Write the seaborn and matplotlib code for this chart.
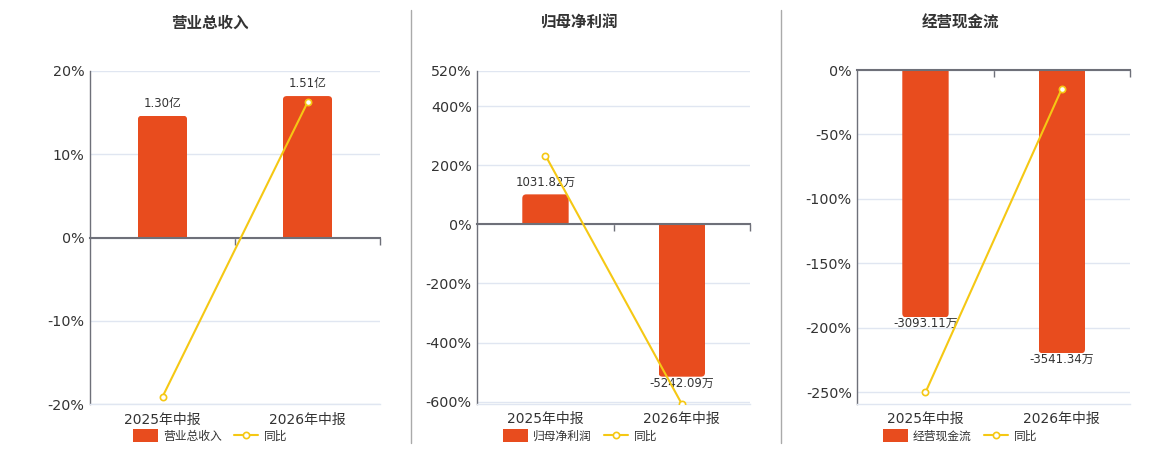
import seaborn as sns
import pandas as pd
import numpy as np
import matplotlib.pyplot as plt
from matplotlib.lines import Line2D
from matplotlib.patches import FancyBboxPatch

# Data
periods = ['2025年中报', '2026年中报']

titles = ['营业总收入', '归母净利润', '经营现金流']
units = ['亿', '万', '万']

revenue = [1.30, 1.51]          # 亿
net_profit = [1031.82, -5242.09]  # 万
cash_flow = [-3093.11, -3541.34]  # 万

revenue_yoy = [-19.1, 16.2]
net_profit_yoy = [233.0, -608.0]
cash_flow_yoy = [-250.0, -14.49]

# y-axis (percent) limits and ticks for each panel
pct_limits = [(-20, 20), (-608, 520), (-259, 0)]
pct_ticks = [[-20, -10, 0, 10, 20],
             [-600, -400, -200, 0, 200, 400, 520],
             [-250, -200, -150, -100, -50, 0]]

bar_color = '#E84C1E'
line_color = '#F5C814'
grid_color = '#E0E6F1'
axis_color = '#6E7079'
text_color = '#333333'

sns.set_theme(style='white')
plt.rcParams['font.family'] = ['DejaVu Sans', 'Noto Sans CJK SC']

W, H = 1160, 450
fig = plt.figure(figsize=(W / 100, H / 100), dpi=100)

# panel boxes in pixels: left, right, top, bottom ; centre of title/legend
boxes = [(90, 380, 70.7, 404.3, 210),
         (477.3, 750, 70.7, 404, 580),
         (857.3, 1130, 70, 404, 960)]

bars_all = [revenue, net_profit, cash_flow]
yoy_all = [revenue_yoy, net_profit_yoy, cash_flow_yoy]

for i in range(3):
    l, r, t, b, cx = boxes[i]
    ax = fig.add_axes([l / W, 1 - b / H, (r - l) / W, (b - t) / H])
    bars = bars_all[i]
    yoy = yoy_all[i]
    lo, hi = pct_limits[i]

    # scale for bars so that zero lines up with the percent axis
    k = max(abs(v) / (0.848 * (hi if v > 0 else -lo)) for v in bars)

    df = pd.DataFrame({'period': periods, 'value': bars, 'yoy': yoy})

    sns.barplot(data=df, x='period', y='value', ax=ax, color=bar_color,
                saturation=1, width=0.34, zorder=1)
    ax.set_ylim(lo * k, hi * k)
    ax.set_yticks(np.array(pct_ticks[i]) * k)
    ax.set_axisbelow(True)
    ax.grid(axis='y', color=grid_color, lw=1)
    ax.grid(axis='x', visible=False)
    ax.tick_params(axis='y', labelleft=False, length=0)
    ax.set_xlabel('')
    ax.set_ylabel('')

    # rounded bar ends: replace each bar by a rounded box clipped to the bar
    x_per_px = 2.0 / (r - l)
    y_per_px = (hi - lo) * k / (b - t)
    rad = 4 * x_per_px
    for patch in list(ax.patches):
        x0, y0 = patch.get_x(), patch.get_y()
        w, h = patch.get_width(), patch.get_height()
        ext = 6 * y_per_px
        if h >= 0:
            yb, hb = y0 - ext, h + ext
        else:
            yb, hb = y0 + ext, h - ext
        ybot = min(yb, yb + hb)
        rb = FancyBboxPatch((x0, ybot), w, abs(hb),
                            boxstyle=f'round,pad=0,rounding_size={rad}',
                            mutation_aspect=y_per_px / x_per_px,
                            facecolor=bar_color, edgecolor='none', zorder=1)
        ax.add_patch(rb)
        rb.set_clip_path(patch)
        patch.set_visible(False)

    # category axis sits on zero
    ax.spines['top'].set_position(('data', 0))
    ax.spines['top'].set_color(axis_color)
    ax.spines['top'].set_linewidth(1.5)
    ax.spines['left'].set_color(axis_color)
    ax.spines['left'].set_linewidth(1)
    ax.spines['bottom'].set_color(grid_color)
    ax.spines['bottom'].set_linewidth(1)
    ax.spines['right'].set_visible(False)
    ax.set_xticks([0.5, 1.5], minor=True)
    ax.tick_params(axis='x', which='major', length=0, labelsize=10,
                   labelcolor=text_color, pad=6)
    ax.tick_params(axis='x', which='minor', top=True, bottom=False,
                   direction='in', length=5, color=axis_color, width=1)

    # value labels
    for patch, v in zip(ax.patches[:len(bars)], bars):
        xc = patch.get_x() + patch.get_width() / 2
        yv = patch.get_y() + patch.get_height()
        if v >= 0:
            ax.annotate(f'{v:.2f}{units[i]}', (xc, yv), xytext=(0, 4),
                        textcoords='offset points', ha='center', va='bottom',
                        fontsize=8.5, color=text_color)
        else:
            ax.annotate(f'{v:.2f}{units[i]}', (xc, yv), xytext=(0, 0),
                        textcoords='offset points', ha='center', va='top',
                        fontsize=8.5, color=text_color)

    # YoY line on twin axis
    ax2 = ax.twinx()
    sns.pointplot(data=df, x='period', y='yoy', ax=ax2, color=line_color,
                  markers='o', linewidth=1.5, markersize=4.5,
                  markerfacecolor='white', markeredgecolor=line_color,
                  markeredgewidth=1.2, errorbar=None)
    ax2.set_ylim(lo, hi)
    ax2.set_yticks(pct_ticks[i])
    ax2.set_yticklabels([f'{v}%' for v in pct_ticks[i]])
    ax2.yaxis.tick_left()
    ax2.tick_params(axis='y', length=0, labelsize=10.3, labelcolor=text_color, pad=4)
    ax2.set_ylabel('')
    for s in ax2.spines.values():
        s.set_visible(False)
    ax2.grid(False)

    fig.text(cx / W, 1 - 23 / H, titles[i], ha='center', va='center',
             fontsize=11.2, fontweight='bold', color=text_color)

    leg_patch = FancyBboxPatch((0, 0), 1, 1, facecolor=bar_color, edgecolor='none')
    fig.legend([ax.patches[-1], ax2.lines[0]], [titles[i], '同比'],
               loc='center', bbox_to_anchor=(cx / W, 1 - 436 / H), ncol=2,
               frameon=False, fontsize=8.5, handlelength=2.1, handleheight=1.2,
               handletextpad=0.45, columnspacing=1.0, borderaxespad=0,
               labelcolor=text_color)

# separators between panels
for xs in [410.5, 780.5]:
    fig.add_artist(Line2D([xs / W, xs / W], [1 - 10 / H, 1 - 443 / H],
                          color='#AAAAAA', lw=1))

fig.savefig('out.png', dpi=100)
